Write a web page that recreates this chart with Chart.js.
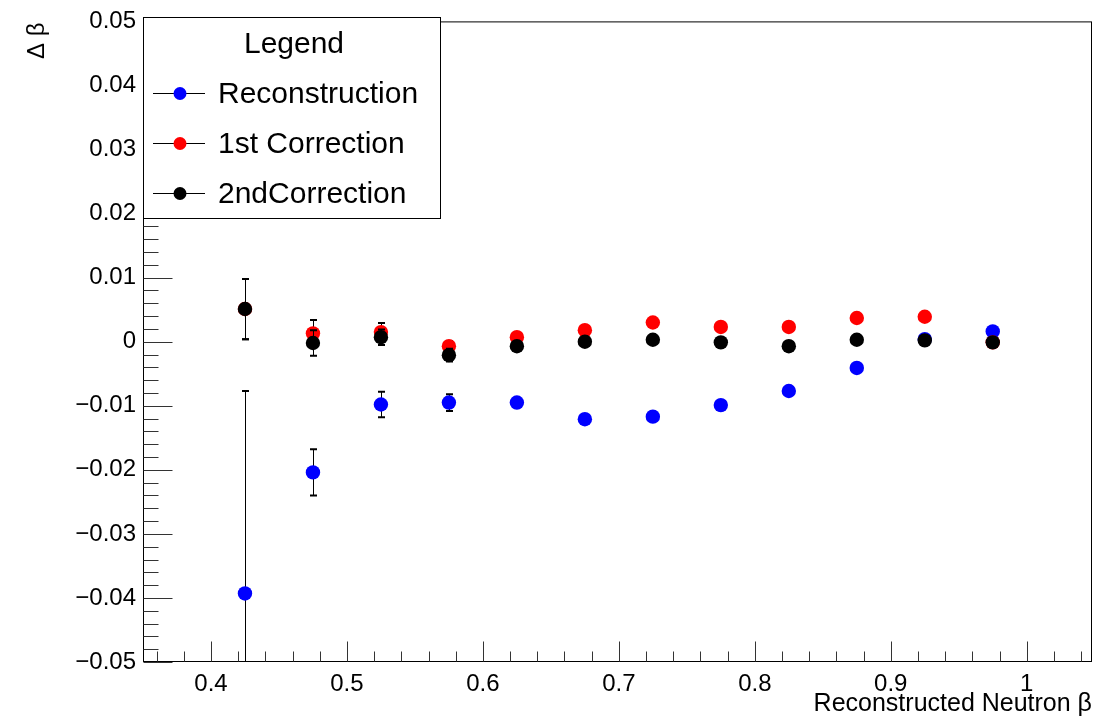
<!DOCTYPE html>
<html>
<head>
<meta charset="utf-8">
<script src="https://cdn.jsdelivr.net/npm/chart.js@4.4.1/dist/chart.umd.min.js"></script>
<style>
  html, body { margin: 0; padding: 0; background: #fff; }
  #wrap { width: 1114px; height: 719px; }
</style>
</head>
<body>
<div id="wrap"><canvas id="betaChart" width="1114" height="719"></canvas></div>
<script>
// Delta beta vs reconstructed neutron beta, ROOT-style graph
const betaBins = [0.425, 0.475, 0.525, 0.575, 0.625, 0.675, 0.725, 0.775, 0.825, 0.875, 0.925, 0.975];

const recoValues = [-0.0393, -0.0204, -0.0098, -0.0095, -0.0095, -0.0121, -0.0117, -0.0099, -0.0077, -0.0041, 0.0004, 0.0016];
const recoErrors = [0.0316, 0.0036, 0.0020, 0.0013, 0.0004, 0.0003, 0.0003, 0.0003, 0.0002, 0.0002, 0.0002, 0.0002];

const corr1Values = [0.0051, 0.0013, 0.0015, -0.0007, 0.0007, 0.0018, 0.0030, 0.0023, 0.0023, 0.0037, 0.0039, -0.0001];
const corr1Errors = [0.0047, 0.0021, 0.0014, 0.0008, 0.0004, 0.0003, 0.0003, 0.0003, 0.0002, 0.0002, 0.0002, 0.0002];

const corr2Values = [0.0051, -0.0002, 0.0007, -0.0021, -0.0007, 0.0000, 0.0003, -0.0001, -0.0007, 0.0003, 0.0002, -0.0001];
const corr2Errors = [0.0047, 0.0020, 0.0012, 0.0010, 0.0004, 0.0003, 0.0003, 0.0003, 0.0002, 0.0002, 0.0002, 0.0002];

const seriesNames = ['Reconstruction', '1st Correction', '2ndCorrection'];

const xTickValues = [0.4, 0.5, 0.6, 0.7, 0.8, 0.9, 1.0];
const xTickLabels = ['0.4', '0.5', '0.6', '0.7', '0.8', '0.9', '1'];
const yTickValues = [-0.05, -0.04, -0.03, -0.02, -0.01, 0, 0.01, 0.02, 0.03, 0.04, 0.05];
const yTickLabels = ['\u22120.05', '\u22120.04', '\u22120.03', '\u22120.02', '\u22120.01', '0', '0.01', '0.02', '0.03', '0.04', '0.05'];

const xTitle = 'Reconstructed Neutron \u03b2';
const yTitle = '\u0394 \u03b2';
const legendTitle = 'Legend';

const FONT = '"Liberation Sans", Arial, Helvetica, sans-serif';

function toPoints(values) {
    return betaBins.map((b, i) => ({ x: b, y: values[i] }));
}

// error bars, frame, minor ticks, titles and the legend box
const rootStyle = {
    id: 'rootStyle',
    beforeDatasetDraw(chart, args) {
        const ds = chart.data.datasets[args.index];
        if (!ds.errors) return;
        const { ctx, chartArea } = chart;
        const xs = chart.scales.x, ys = chart.scales.y;
        ctx.save();
        ctx.beginPath();
        ctx.rect(chartArea.left, chartArea.top, chartArea.right - chartArea.left, chartArea.bottom - chartArea.top);
        ctx.clip();
        ctx.strokeStyle = '#000';
        ctx.lineWidth = 1;
        ds.data.forEach((p, i) => {
            const e = ds.errors[i];
            if (!e) return;
            const px = Math.round(xs.getPixelForValue(p.x)) + 0.5;
            const top = ys.getPixelForValue(p.y + e);
            const bot = ys.getPixelForValue(p.y - e);
            ctx.beginPath();
            ctx.moveTo(px, top);
            ctx.lineTo(px, bot);
            ctx.stroke();
            ctx.lineWidth = 2;
            ctx.beginPath();
            ctx.moveTo(px - 3.5, top); ctx.lineTo(px + 3.5, top);
            ctx.moveTo(px - 3.5, bot); ctx.lineTo(px + 3.5, bot);
            ctx.stroke();
            ctx.lineWidth = 1;
        });
        ctx.restore();
    },
    afterDatasetsDraw(chart) {
        const { ctx, chartArea } = chart;
        const xs = chart.scales.x, ys = chart.scales.y;
        const L = chartArea.left + 0.5, R = chartArea.right - 0.5;
        const T = chartArea.top + 0.5, B = chartArea.bottom - 0.5;
        ctx.save();
        ctx.strokeStyle = '#000';
        ctx.lineWidth = 1;
        ctx.strokeRect(L, T, R - L, B - T);

        // y ticks: major every 0.01, minor every 0.002
        ctx.strokeStyle = '#333';
        ctx.beginPath();
        for (let k = -25; k <= 25; k++) {
            const v = k * 0.002;
            const py = Math.round(ys.getPixelForValue(v)) + 0.5;
            const len = (k % 5 === 0) ? 29 : 15;
            ctx.moveTo(L, py);
            ctx.lineTo(L + len, py);
        }
        // x ticks: major every 0.1, minor every 0.02
        for (let k = 18; k <= 52; k++) {
            const v = k * 0.02;
            if (v < xs.min || v > xs.max) continue;
            const px = Math.round(xs.getPixelForValue(v)) + 0.5;
            const len = (k % 5 === 0) ? 20 : 10;
            ctx.moveTo(px, B);
            ctx.lineTo(px, B - len);
        }
        ctx.stroke();
        ctx.restore();
    },
    afterDraw(chart) {
        const { ctx, chartArea } = chart;
        ctx.save();
        ctx.fillStyle = '#000';

        // axis titles
        ctx.font = '25px ' + FONT;
        ctx.textAlign = 'right';
        ctx.textBaseline = 'alphabetic';
        ctx.fillText(xTitle, chartArea.right, 711);

        ctx.save();
        ctx.translate(44, chartArea.top + 1);
        ctx.rotate(-Math.PI / 2);
        ctx.font = '24px ' + FONT;
        ctx.textAlign = 'right';
        ctx.fillText(yTitle, 0, 0);
        ctx.restore();

        // legend box
        const bx = 143.5, by = 17.5, bw = 297, bh = 201;
        ctx.fillStyle = '#fff';
        ctx.fillRect(bx, by, bw, bh);
        ctx.strokeStyle = '#000';
        ctx.lineWidth = 1;
        ctx.strokeRect(bx, by, bw, bh);

        ctx.fillStyle = '#000';
        ctx.font = '30px ' + FONT;
        ctx.textAlign = 'center';
        ctx.textBaseline = 'middle';
        ctx.fillText(legendTitle, 294, 45);

        const rows = [93, 143, 193];
        chart.data.datasets.forEach((ds, i) => {
            const y = rows[i] + 0.5;
            ctx.strokeStyle = '#000';
            ctx.beginPath();
            ctx.moveTo(153, y);
            ctx.lineTo(205, y);
            ctx.stroke();
            ctx.fillStyle = ds.pointBackgroundColor;
            ctx.beginPath();
            ctx.arc(180, y, 6.5, 0, Math.PI * 2);
            ctx.fill();
            ctx.fillStyle = '#000';
            ctx.textAlign = 'left';
            ctx.fillText(ds.label, 218, y + 1);
        });
        ctx.restore();
    }
};

const datasets = [
    { label: seriesNames[0], data: toPoints(recoValues), errors: recoErrors, color: '#0000ff', order: 3 },
    { label: seriesNames[1], data: toPoints(corr1Values), errors: corr1Errors, color: '#ff0000', order: 2 },
    { label: seriesNames[2], data: toPoints(corr2Values), errors: corr2Errors, color: '#000000', order: 1 }
].map(d => ({
    label: d.label,
    data: d.data,
    errors: d.errors,
    order: d.order,
    showLine: false,
    pointRadius: 7.2,
    pointHoverRadius: 7.2,
    pointBorderWidth: 0,
    pointBackgroundColor: d.color,
    pointBorderColor: d.color,
    clip: false
}));

new Chart(document.getElementById('betaChart'), {
    type: 'scatter',
    data: { datasets: datasets },
    options: {
        responsive: false,
        animation: false,
        layout: { padding: { top: 17, right: 22, left: 0, bottom: 0 } },
        plugins: {
            legend: { display: false },
            tooltip: { enabled: false },
            title: { display: false }
        },
        scales: {
            x: {
                type: 'linear',
                min: 0.35,
                max: 1.048,
                grid: { display: false, drawTicks: false },
                border: { display: false },
                afterBuildTicks: (scale) => { scale.ticks = xTickValues.map(v => ({ value: v })); },
                afterFit: (scale) => { scale.height = 57; },
                ticks: {
                    color: '#000',
                    padding: 8,
                    maxRotation: 0,
                    font: { family: FONT, size: 24 },
                    callback: (v, i) => xTickLabels[i]
                }
            },
            y: {
                type: 'linear',
                min: -0.05,
                max: 0.05,
                grid: { display: false, drawTicks: false },
                border: { display: false },
                afterBuildTicks: (scale) => { scale.ticks = yTickValues.map(v => ({ value: v })); },
                afterFit: (scale) => { scale.width = 143; },
                ticks: {
                    color: '#000',
                    padding: 7,
                    font: { family: FONT, size: 24 },
                    callback: (v, i) => yTickLabels[i]
                }
            }
        }
    },
    plugins: [rootStyle]
});
</script>
</body>
</html>
